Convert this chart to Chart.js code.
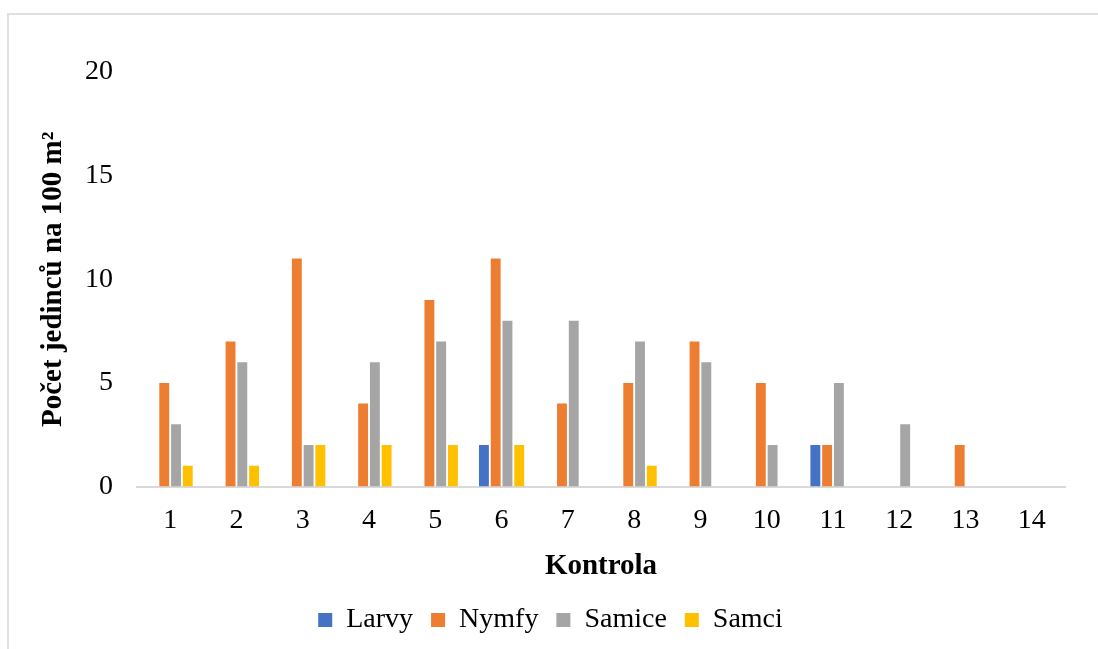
<!DOCTYPE html>
<html lang="cs">
<head>
<meta charset="UTF-8">
<title>Kontrola</title>
<script src="https://cdn.jsdelivr.net/npm/chart.js@4"></script>
<style>
  html, body { margin: 0; padding: 0; background: #fff; }
  .frame {
    position: absolute; left: 7px; top: 13px; width: 1200px; height: 700px;
    border: 2px solid #e0e0e0; box-sizing: border-box;
  }
  .wrap { position: absolute; left: 0; top: 0; width: 1098px; height: 649px; }
</style>
</head>
<body>
<div class="frame"></div>
<div class="wrap"><canvas id="chart" width="1098" height="649"></canvas></div>
<script>
const categories = ['1', '2', '3', '4', '5', '6', '7', '8', '9', '10', '11', '12', '13', '14'];
const larvy  = [0, 0, 0, 0, 0, 2, 0, 0, 0, 0, 2, 0, 0, 0];
const nymfy  = [5, 7, 11, 4, 9, 11, 4, 5, 7, 5, 2, 0, 2, 0];
const samice = [3, 6, 2, 6, 7, 8, 8, 7, 6, 2, 5, 3, 0, 0];
const samci  = [1, 1, 2, 2, 2, 2, 0, 1, 0, 0, 0, 0, 0, 0];
const yTicks = [0, 5, 10, 15, 20];

const font = "'Liberation Serif', 'Times New Roman', serif";
Chart.defaults.font.family = font;
Chart.defaults.font.size = 28;
Chart.defaults.color = '#000';

const ds = (label, data, color) => ({
  label, data, backgroundColor: color,
  borderWidth: 0,
  categoryPercentage: 0.71, barPercentage: 0.84
});

new Chart(document.getElementById('chart'), {
  type: 'bar',
  data: {
    labels: categories,
    datasets: [
      ds('Larvy', larvy, '#4472C4'),
      ds('Nymfy', nymfy, '#ED7D31'),
      ds('Samice', samice, '#A5A5A5'),
      ds('Samci', samci, '#FFC000')
    ]
  },
  options: {
    responsive: false,
    animation: false,
    layout: { padding: { left: 36, right: 33, top: 72, bottom: 5 } },
    plugins: {
      tooltip: { enabled: false },
      legend: {
        position: 'bottom',
        labels: {
          font: { family: font, size: 28 }, color: '#000',
          boxWidth: 14, boxHeight: 14, padding: 18
        }
      }
    },
    scales: {
      x: {
        grid: { display: false, drawTicks: false },
        border: { display: true, color: '#d9d9d9', width: 2 },
        ticks: { font: { family: font, size: 28 }, color: '#000', padding: 17 },
        title: {
          display: true, text: 'Kontrola', color: '#000',
          font: { family: font, size: 29, weight: 'bold', lineHeight: 1.1 },
          padding: { top: -4, bottom: 6 }
        }
      },
      y: {
        min: 0, max: 20,
        afterFit: s => { s.width = 101; },
        afterBuildTicks: s => { s.ticks = yTicks.map(v => ({ value: v })); },
        grid: { display: false, drawTicks: false },
        border: { display: false },
        ticks: { font: { family: font, size: 28 }, color: '#000', padding: 24 },
        title: {
          display: true, text: 'Počet jedinců na 100 m²', color: '#000',
          font: { family: font, size: 29, weight: 'bold' },
          padding: 0
        }
      }
    }
  }
});
</script>
</body>
</html>
